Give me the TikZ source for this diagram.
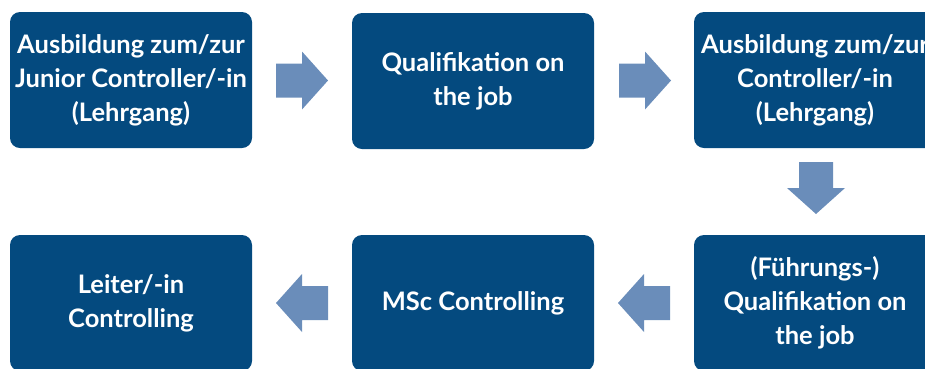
\documentclass[tikz,border=0pt]{standalone}
\usepackage{fontspec}
\setmainfont{Lato}
\usetikzlibrary{calc}
\definecolor{boxblue}{RGB}{4,74,127}
\definecolor{arrowblue}{RGB}{106,141,186}
\begin{document}
\begin{tikzpicture}[x=1pt,y=-1pt,
  box/.style={fill=boxblue, rounded corners=10pt, minimum width=242pt, minimum height=136pt,
    text=white, font=\bfseries\fontsize{25.5}{34}\selectfont, align=center, inner sep=0pt},
  blockarrow/.pic={\fill[arrowblue] (-26,-17) -- (0,-17) -- (0,-29) -- (26,0) -- (0,29) -- (0,17) -- (-26,17) -- cycle;}]
\useasboundingbox (0,0) rectangle (925,368);
\clip (0,0) rectangle (925,368);
\node[box] (b1) at (131,80) {Ausbildung zum/zur\\Junior Controller/-in\\(Lehrgang)};
\node[box] (b2) at (473,81) {Qualifikation on\\the job};
\node[box] (b3) at (815,80) {Ausbildung zum/zur\\Controller/-in\\(Lehrgang)};
\node[box] (b6) at (815,303) {(Führungs-)\\Qualifikation on\\the job};
\node[box] (b5) at (473,303) {MSc Controlling};
\node[box] (b4) at (131,303) {Leiter/-in\\Controlling};
\path ($(b1.east)!0.5!(b2.west)$) pic {blockarrow};
\path ($(b2.east)!0.5!(b3.west)+(1,0)$) pic {blockarrow};
\path (816,188) pic[rotate=-90] {blockarrow};
\path ($(b5.east)!0.5!(b6.west)$) pic[rotate=180] {blockarrow};
\path ($(b4.east)!0.5!(b5.west)$) pic[rotate=180] {blockarrow};
\end{tikzpicture}
\end{document}
